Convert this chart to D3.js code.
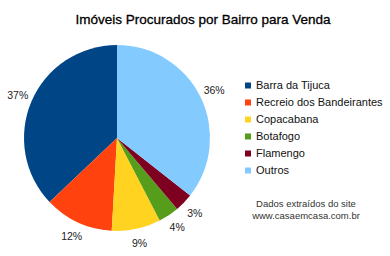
<!DOCTYPE html>
<html><head><meta charset="utf-8">
<script src="https://cdn.jsdelivr.net/npm/d3@7"></script>
<style>body{margin:0;background:#fff}svg{display:block}</style>
</head><body>
<script>
const categories = ["Barra da Tijuca","Recreio dos Bandeirantes","Copacabana","Botafogo","Flamengo","Outros"];
const values = [37.1, 12, 8.5, 3.6, 3.2, 35.6];
const labels = ["37%","12%","9%","4%","3%","36%"];
const colors = ["#004586","#ff420e","#ffd320","#579d1c","#7e0021","#83caff"];
const title = "Imóveis Procurados por Bairro para Venda";
const footer = ["Dados extraídos do site","www.casaemcasa.com.br"];

const W=390,H=256;
const svg=d3.select("body").append("svg").attr("width",W).attr("height",H)
  .style("font-family","'Liberation Sans', Arial, sans-serif");

svg.append("text").attr("x",203).attr("y",24).attr("text-anchor","middle")
  .attr("font-size",13.5).attr("fill","#000").attr("stroke","#000").attr("stroke-width",0.3)
  .text(title);

const cx=117, cy=138, r=93;
const pie=d3.pie().sort(null).value(d=>d).startAngle(0).endAngle(-2*Math.PI);
const arcs=pie(values);
const arc=d3.arc().innerRadius(0).outerRadius(r);
const g=svg.append("g").attr("transform",`translate(${cx},${cy})`);
g.selectAll("path").data(arcs).join("path").attr("d",arc).attr("fill",(d,i)=>colors[i]);
const lab=d3.arc().innerRadius(108).outerRadius(108);
g.selectAll("text").data(arcs).join("text")
  .attr("transform",d=>`translate(${lab.centroid(d)})`)
  .attr("text-anchor","middle").attr("dy","0.35em")
  .attr("font-size",10.5).attr("fill","#222").text((d,i)=>labels[i]);

const y=d3.scaleBand().domain(categories).range([77,179]);
const lg=svg.append("g");
lg.selectAll("rect").data(categories).join("rect")
  .attr("x",245).attr("y",d=>y(d)+y.bandwidth()/2-3).attr("width",6).attr("height",6)
  .attr("fill",(d,i)=>colors[i]);
lg.selectAll("text").data(categories).join("text")
  .attr("x",256).attr("y",d=>y(d)+y.bandwidth()/2).attr("dy","0.35em")
  .attr("font-size",11).attr("fill","#111").text(d=>d);

svg.selectAll("text.f").data(footer).join("text").attr("class","f")
  .attr("x",306).attr("y",(d,i)=>204+i*11.5).attr("dy","0.35em").attr("text-anchor","middle")
  .attr("font-size",9.5).attr("fill","#333").text(d=>d);
</script>
</body></html>
